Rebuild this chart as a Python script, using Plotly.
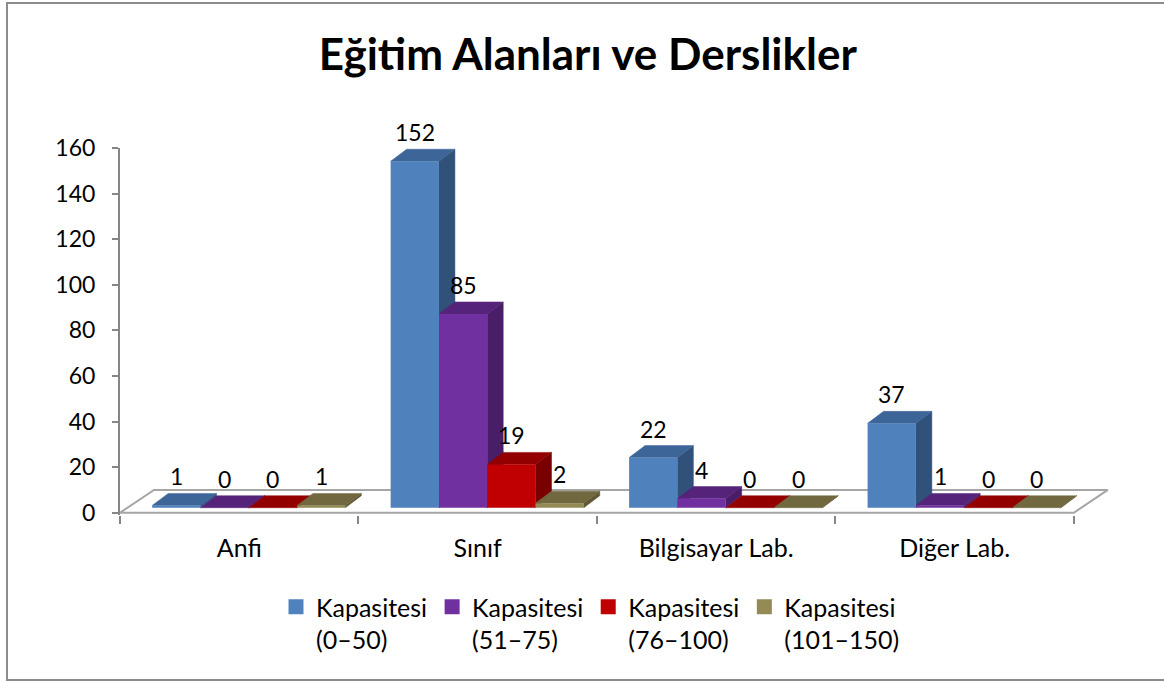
import plotly.graph_objects as go

categories = ["Anfi", "Sınıf", "Bilgisayar Lab.", "Diğer Lab."]
series_names = ["Kapasitesi<br>(0–50)", "Kapasitesi<br>(51–75)", "Kapasitesi<br>(76–100)", "Kapasitesi<br>(101–150)"]
cap_0_50 = [1, 152, 22, 37]
cap_51_75 = [0, 85, 4, 1]
cap_76_100 = [0, 19, 0, 0]
cap_101_150 = [1, 2, 0, 0]
series_values = [cap_0_50, cap_51_75, cap_76_100, cap_101_150]
y_ticks = [0, 20, 40, 60, 80, 100, 120, 140, 160]

front_colors = ["#4F81BD", "#7030A0", "#C00000", "#948A54"]
top_colors = ["#3D6598", "#56237A", "#930000", "#716840"]
side_colors = ["#30517A", "#491D68", "#7A0000", "#5F5736"]

FONT = "Lato"
W, H = 1164, 682
ML, MR, MT, MB = 120, 52, 148, 167
XR = [-0.5, 3.66]
YR = [-1, 160]

bar_w = 0.2025
first_off = -0.365
base = 2.2
dx, dy = 0.067, 5.26          # bar depth (3D)
fdx, fdy = 0.1426, 10.0       # floor depth

ncat = len(categories)
xs = list(range(ncat))

fig = go.Figure()

# floor
fig.add_trace(go.Scatter(
    x=[-0.5, -0.5 + fdx, ncat - 0.5 + fdx, ncat - 0.5, -0.5],
    y=[0, fdy, fdy, 0, 0],
    mode="lines", fill="toself", fillcolor="white",
    line=dict(color="#A6A6A6", width=2),
    hoverinfo="skip", showlegend=False))

# side and top faces
for i, vals in enumerate(series_values):
    sx, sy, tx, ty = [], [], [], []
    for c, v in zip(xs, vals):
        x0 = c + first_off + i * bar_w
        x1 = x0 + bar_w
        t = base + v
        sx += [x1, x1 + dx, x1 + dx, x1, x1, None]
        sy += [base, base + dy, t + dy, t, base, None]
        tx += [x0, x1, x1 + dx, x0 + dx, x0, None]
        ty += [t, t, t + dy, t + dy, t, None]
    fig.add_trace(go.Scatter(x=sx, y=sy, mode="lines", fill="toself",
                             fillcolor=side_colors[i],
                             line=dict(color=side_colors[i], width=0.5),
                             hoverinfo="skip", showlegend=False))
    fig.add_trace(go.Scatter(x=tx, y=ty, mode="lines", fill="toself",
                             fillcolor=top_colors[i],
                             line=dict(color=top_colors[i], width=0.5),
                             hoverinfo="skip", showlegend=False))

# legend entries (square swatches)
for i in range(len(series_values)):
    fig.add_trace(go.Scatter(x=[None], y=[None], mode="markers", name=series_names[i],
                             marker=dict(symbol="square", size=15, color=front_colors[i]),
                             hoverinfo="skip", showlegend=True))

# front faces (on overlay axes so they sit above side faces)
for i, vals in enumerate(series_values):
    fig.add_trace(go.Bar(
        x=xs, y=vals, base=base, width=bar_w, offset=first_off + i * bar_w,
        marker=dict(color=front_colors[i], line=dict(width=0)),
        name=series_names[i], xaxis="x2", yaxis="y2", hoverinfo="skip",
        showlegend=False))

# data labels
for i, vals in enumerate(series_values):
    for c, v in zip(xs, vals):
        xc = c + first_off + i * bar_w + bar_w / 2
        fig.add_annotation(x=xc, y=base + v + dy, text=str(v), showarrow=False,
                           yanchor="bottom", xanchor="center", yshift=1,
                           font=dict(family=FONT, size=23, color="black"))

axis_gray = "#868686"
fig.update_layout(
    width=W, height=H,
    margin=dict(l=ML, r=MR, t=MT, b=MB, autoexpand=False),
    paper_bgcolor="white", plot_bgcolor="rgba(0,0,0,0)",
    barmode="overlay",
    title=dict(text="<b>Eğitim Alanları ve Derslikler</b>", x=0.505, xanchor="center",
               xref="container", y=1 - 55 / H, yref="container", yanchor="middle",
               automargin=False,
               font=dict(family=FONT, size=44, color="black")),
    xaxis=dict(range=XR, tickvals=xs, ticktext=categories, ticks="",
               showline=False, showgrid=False, zeroline=False, automargin=False,
               ticklabelstandoff=16,
               tickfont=dict(family=FONT, size=25, color="black"),
               minor=dict(tickvals=[c - 0.5 for c in range(ncat + 1)], ticks="outside",
                          ticklen=8, tickwidth=1.5, tickcolor=axis_gray, showgrid=False)),
    yaxis=dict(range=YR, tickvals=y_ticks, ticks="outside", ticklen=6, tickwidth=1.5,
               tickcolor=axis_gray, showline=True, linecolor=axis_gray, linewidth=2,
               showgrid=False, zeroline=False, ticklabelstandoff=12, automargin=False,
               tickfont=dict(family=FONT, size=23, color="black")),
    xaxis2=dict(range=XR, overlaying="x", anchor="y", visible=False),
    yaxis2=dict(range=YR, overlaying="y", anchor="x", visible=False),
    legend=dict(orientation="h", xref="container", yref="container",
                x=276 / W, xanchor="left", y=1 - 584 / H, yanchor="top",
                valign="top", itemwidth=30,
                font=dict(family=FONT, size=25, color="black"),
                bgcolor="rgba(0,0,0,0)"),
    showlegend=True,
)

# outer chart border
PW, PH = W - ML - MR, H - MT - MB
fig.add_shape(type="rect", xref="paper", yref="paper",
              x0=(7 - ML) / PW, x1=(1166 - ML) / PW,
              y0=((H - MB) - 680) / PH, y1=((H - MB) - 3) / PH,
              line=dict(color="#8C8C8C", width=2), fillcolor="rgba(0,0,0,0)", layer="below")

fig.write_html("out.html", config={"displayModeBar": False},
               post_script="document.body.style.margin='0px';")
